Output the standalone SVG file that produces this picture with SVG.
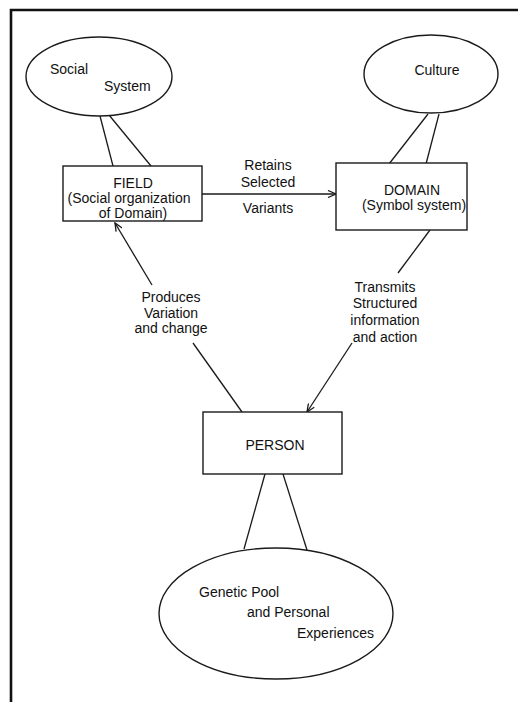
<svg xmlns="http://www.w3.org/2000/svg" width="518" height="702" viewBox="0 0 518 702">
<style>
.shape{fill:#fff;stroke:#1a1a1a;stroke-width:1.4}
.ln{fill:none;stroke:#1a1a1a;stroke-width:1.3}
text{font-family:"Liberation Sans",Arial,sans-serif;font-size:14px;fill:#111}
.c{text-anchor:middle}
</style>
<defs>
<marker id="arr" markerWidth="10" markerHeight="8" refX="9" refY="4" orient="auto" markerUnits="userSpaceOnUse">
<path d="M1,0.5 L9,4 L1,7.5" fill="none" stroke="#1a1a1a" stroke-width="1.3"/>
</marker>
</defs>
<rect width="518" height="702" fill="#fff"/>
<path d="M11,702 L11,10 L518,10" fill="none" stroke="#111" stroke-width="2.6"/>
<g id="connectors">
<line class="ln" x1="100" y1="116" x2="113" y2="166"/>
<line class="ln" x1="109" y1="115" x2="151" y2="166"/>
<line class="ln" x1="428" y1="114" x2="389" y2="164"/>
<line class="ln" x1="439" y1="114" x2="426" y2="164"/>
<line class="ln" x1="265" y1="474" x2="244" y2="549"/>
<line class="ln" x1="283" y1="474" x2="307" y2="550"/>
<line class="ln" x1="202" y1="194" x2="336" y2="194" marker-end="url(#arr)"/>
<line class="ln" x1="152" y1="285" x2="115" y2="223" marker-end="url(#arr)"/>
<line class="ln" x1="242" y1="412" x2="193" y2="343"/>
<line class="ln" x1="430" y1="230" x2="398" y2="273"/>
<line class="ln" x1="352" y1="343" x2="307" y2="412" marker-end="url(#arr)"/>
<text class="c" x="268" y="170">Retains</text>
<text class="c" x="268" y="187">Selected</text>
<text class="c" x="268" y="213">Variants</text>
<text class="c" x="171" y="302">Produces</text>
<text class="c" x="171" y="318">Variation</text>
<text class="c" x="171" y="333">and change</text>
<text class="c" x="385" y="292">Transmits</text>
<text class="c" x="385" y="308">Structured</text>
<text class="c" x="385" y="325">information</text>
<text class="c" x="385" y="342">and action</text>
</g>
<g id="social-system">
<ellipse class="shape" cx="99" cy="76.5" rx="73" ry="39.5"/>
<text x="50" y="74">Social</text>
<text x="104" y="91">System</text>
</g>
<g id="culture">
<ellipse class="shape" cx="431" cy="74" rx="67" ry="39"/>
<text class="c" x="437" y="75">Culture</text>
</g>
<g id="field">
<rect class="shape" x="63" y="166" width="139" height="55"/>
<text class="c" x="133" y="188">FIELD</text>
<text class="c" x="129" y="203">(Social organization</text>
<text class="c" x="133" y="218">of Domain)</text>
</g>
<g id="domain">
<rect class="shape" x="336" y="163" width="131" height="67"/>
<text class="c" x="412" y="195">DOMAIN</text>
<text class="c" x="414" y="210">(Symbol system)</text>
</g>
<g id="person">
<rect class="shape" x="203" y="412" width="139" height="62"/>
<text class="c" x="275" y="450">PERSON</text>
</g>
<g id="genetic-pool">
<ellipse class="shape" cx="276" cy="613.5" rx="117" ry="65.5"/>
<text x="199" y="597">Genetic Pool</text>
<text x="247" y="617">and Personal</text>
<text x="297" y="638">Experiences</text>
</g>
</svg>
